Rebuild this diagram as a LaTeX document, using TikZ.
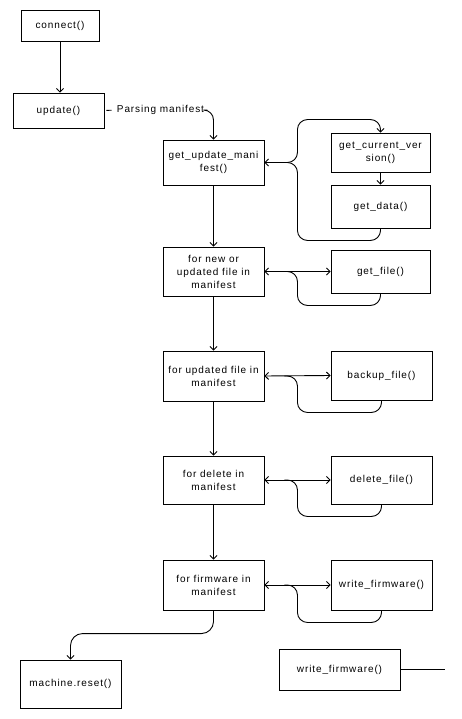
\documentclass[tikz,border=0pt]{standalone}
\usepackage{fontspec}
\setmainfont{Liberation Sans}[LetterSpace=9]
\usetikzlibrary{calc}
\usetikzlibrary{arrows.meta}
\usetikzlibrary{positioning}

\begin{document}
\begin{tikzpicture}[x=1pt, y=-1pt, line width=0.9pt, >={Straight Barb[length=3.5pt, width=7pt]}]
    \tikzset{
        box/.style 2 args={draw, rectangle, align=center, inner sep=2pt,
            minimum width=#1pt, minimum height=#2pt,
            font=\fontsize{10}{13}\selectfont},
        loopline/.style={rounded corners=10pt}
    }

    \useasboundingbox (0,0) rectangle (462,719);

    % Main chain
    \node [box={78}{31}] (connect) at (60,25.5) {connect()};
    \node [box={91}{35}] (update) at (58.5,110.5) {update()};
    \node [box={101}{45}] (getman) at (213.5,162.5) {get\_update\_mani\\fest()};
    \node [box={101}{49}] (fornew) at (213.5,271.5) {for new or\\updated file in\\manifest};
    \node [box={101}{50}] (forupd) at (213.5,376) {for updated file in\\manifest};
    \node [box={101}{48}] (fordel) at (213.5,480) {for delete in\\manifest};
    \node [box={101}{50}] (forfw) at (213.5,585) {for firmware in\\manifest};
    \node [box={101}{48}] (reset) at (70.5,684) {machine.reset()};

    % Calls on the right
    \node [box={99}{39}] (curver) at (380.5,152.5) {get\_current\_ver\\sion()};
    \node [box={99}{43}] (getdata) at (380.5,206.5) {get\_data()};
    \node [box={99}{43}] (getfile) at (380.5,271.5) {get\_file()};
    \node [box={101}{49}] (backup) at (381.5,375.5) {backup\_file()};
    \node [box={101}{48}] (delfile) at (381.5,480) {delete\_file()};
    \node [box={101}{50}] (writefw) at (381.5,585) {write\_firmware()};
    \node [box={121}{41}] (writefwb) at (339.5,669.5) {write\_firmware()};
    \coordinate (tail) at (445,669.5);

    % Label
    \node [inner sep=0pt, font=\fontsize{10}{13}\selectfont] (parse) at (160.5,110) {Parsing manifest};

    % Arrows down
    \draw [->] (connect.south) -- (connect.south |- update.north);
    \draw [shorten <=2pt, shorten >=5pt] (update.east) -- (parse.west);
    \draw [->, rounded corners=10pt] ($(parse.east)+(3,0)$) -| (getman.north);
    \draw [->] (getman) -- (fornew);
    \draw [->] (fornew) -- (forupd);
    \draw [->] (forupd) -- (fordel);
    \draw [->] (fordel) -- (forfw);
    \draw [->, rounded corners=12pt] (forfw.south) |- ($(reset.north)+(0,-26)$) -- (reset.north);
    \draw [->] (curver) -- (getdata);

    % Loop round get_current_version / get_data
    \coordinate (jA) at ($(getman.east)+(33,0)$);
    \draw [<->, loopline] (getman.east) -- (jA) |- ($(curver.north)+(0,-13)$) -- (curver.north);
    \draw [loopline] (getman.east) -- (jA) |- ($(getdata.south)+(0,12)$) -- (getdata.south);

    % Loops for each step
    \foreach \fn/\call in {fornew/getfile, forupd/backup, fordel/delfile, forfw/writefw} {
        \draw [<->] (\fn.east) -- (\call.west);
        \draw [loopline] ($(\fn.east)+(20,0)$) -- ($(\fn.east)+(33,0)$) |- ($(\call.south)+(0,12)$) -- (\call.south);
    }

    \draw (writefwb.east) -- (tail);

\end{tikzpicture}
\end{document}
